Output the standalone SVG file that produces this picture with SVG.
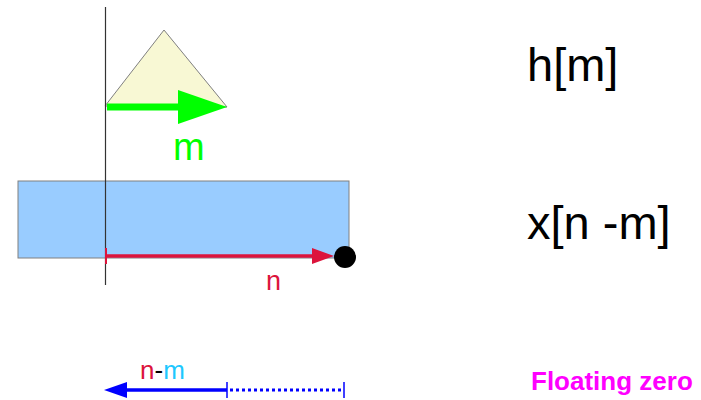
<svg xmlns="http://www.w3.org/2000/svg" width="701" height="400" viewBox="0 0 701 400">
<style>
text{font-family:"Liberation Sans",Arial,sans-serif}
.big{font-size:47px;fill:#000}
</style>
<rect width="701" height="400" fill="#fff"/>
<g id="x-block"><rect x="18" y="181" width="331" height="77" fill="#99ccff" stroke="#808080" stroke-width="1"/></g>
<g id="h-triangle"><polygon points="105,106 164,30 227,107" fill="#f8f8d4" stroke="#808080" stroke-width="1"/></g>
<g id="axis"><line x1="105.5" y1="7" x2="105.5" y2="285" stroke="#333" stroke-width="1.2"/></g>
<g id="connectors">
<line x1="107" y1="107" x2="180" y2="107" stroke="#00ff00" stroke-width="7"/>
<polygon points="178,90 227,107 178,124" fill="#00ff00"/>
<line x1="106" y1="256" x2="315" y2="256" stroke="#dc143c" stroke-width="3.5"/>
<line x1="106" y1="248" x2="106" y2="264" stroke="#dc143c" stroke-width="2"/>
<polygon points="312,248 334,256 312,264" fill="#dc143c"/>
<line x1="124" y1="390" x2="227" y2="390" stroke="#0000ff" stroke-width="3.5"/>
<polygon points="104,390 127,382 127,398" fill="#0000ff"/>
<line x1="227" y1="382" x2="227" y2="398" stroke="#0000ff" stroke-width="1.5"/>
<line x1="230" y1="390" x2="342" y2="390" stroke="#0000ff" stroke-width="3" stroke-dasharray="3,3"/>
<line x1="344" y1="382" x2="344" y2="398" stroke="#0000ff" stroke-width="1.5"/>
</g>
<g id="dot"><circle cx="345" cy="257" r="11" fill="#000"/></g>
<g id="labels">
<text x="173" y="160" font-size="38" fill="#00ff00">m</text>
<text x="266" y="290" font-size="27" fill="#dc143c">n</text>
<text x="140" y="379" font-size="26"><tspan fill="#dc143c">n</tspan><tspan fill="#000">-</tspan><tspan fill="#1ec8ff">m</tspan></text>
<text x="527" y="81" class="big">h[m]</text>
<text x="527" y="239" class="big">x[n -m]</text>
<text x="531" y="390" font-size="26" font-weight="bold" fill="#ff00ff">Floating zero</text>
</g>
</svg>
